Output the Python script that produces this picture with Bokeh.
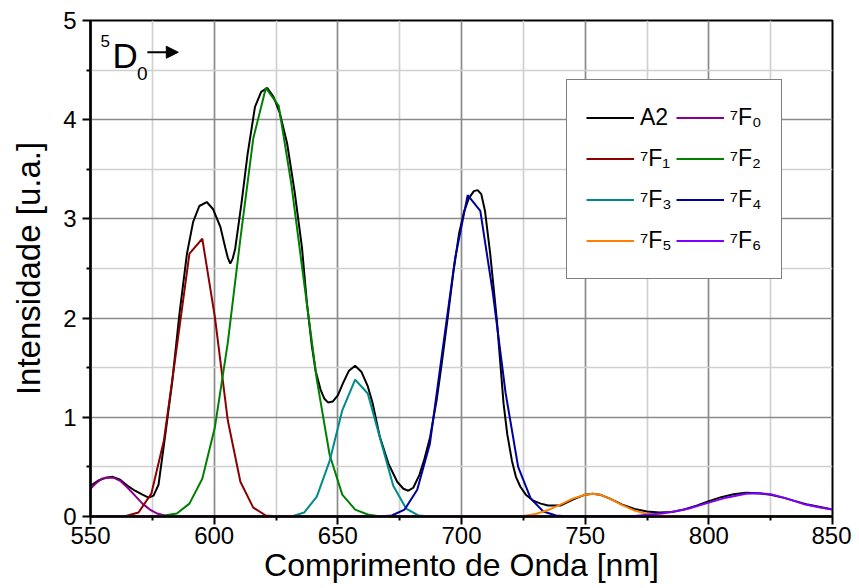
from bokeh.plotting import figure
from bokeh.models import (FixedTicker, Legend, LegendItem, Label, Arrow, NormalHead, Range1d)
from bokeh.embed import file_html
from bokeh.resources import INLINE

# ---- data ----
A2_x = [550, 553, 556, 559, 562, 565, 568, 571, 573.5, 575.5, 577.5, 580, 583, 586, 589, 591.5, 594, 597,
        599.5, 602.5, 604.5, 605.5, 606.5, 607.5, 608.5, 611, 613.5, 616.5, 619, 621.5, 624, 626.5, 629.5,
        632.5, 635.5, 637.5, 639.5, 641, 643, 644.5, 646, 648, 650, 652, 654.5, 657, 659.5, 662, 664, 667,
        670.5, 674, 676.5, 678.5, 680.5, 683, 685, 687.3, 690, 692, 694.5, 696.8, 699, 701, 703, 705, 706.5,
        708, 709.5, 711.6, 714.3, 717, 718.5, 720.4, 722, 723.8, 726, 729, 732, 735, 740, 745, 750, 753, 756,
        760, 765, 770, 775, 780, 785, 790, 795, 800, 805, 810, 815, 820, 825, 830, 835, 840, 845, 850]
A2_y = [0.31, 0.36, 0.39, 0.40, 0.37, 0.31, 0.26, 0.22, 0.19, 0.21, 0.32, 0.78, 1.35, 2.05, 2.65, 2.97, 3.13, 3.17,
        3.10, 2.92, 2.71, 2.61, 2.55, 2.60, 2.70, 3.15, 3.65, 4.13, 4.28, 4.32, 4.23, 4.07, 3.76,
        3.28, 2.71, 2.15, 1.72, 1.47, 1.28, 1.19, 1.15, 1.16, 1.22, 1.34, 1.47, 1.52, 1.46, 1.32, 1.15, 0.80,
        0.53, 0.35, 0.28, 0.26, 0.29, 0.42, 0.58, 0.80, 1.18, 1.54, 2.02, 2.48, 2.85, 3.07, 3.21, 3.28, 3.29,
        3.25, 3.08, 2.65, 1.98, 1.14, 0.83, 0.56, 0.40, 0.30, 0.22, 0.16, 0.13, 0.11, 0.11, 0.17, 0.22, 0.23, 0.22,
        0.18, 0.12, 0.075, 0.05, 0.04, 0.045, 0.07, 0.11, 0.155, 0.195, 0.225, 0.24, 0.235, 0.22, 0.19, 0.155,
        0.12, 0.095, 0.07]

F0_x = [550, 552, 554.5, 557, 559.5, 562, 565, 568, 571, 574, 577, 580, 585, 850]
F0_y = [0.28, 0.33, 0.38, 0.39, 0.39, 0.36, 0.29, 0.21, 0.13, 0.07, 0.03, 0.01, 0, 0]

F1_x = [550, 559.1, 564.3, 569.4, 574.6, 579.7, 584.9, 590.0, 595.2, 600.3, 605.5, 610.6, 615.8, 620.9, 626.1, 850]
F1_y = [0, 0, 0.005, 0.04, 0.23, 0.77, 1.71, 2.65, 2.80, 2.01, 0.97, 0.35, 0.09, 0.01, 0, 0]

F2_x = [550, 574.6, 579.7, 584.9, 590.0, 595.2, 600.3, 605.5, 610.6, 615.8, 620.9, 626.1, 631.2, 636.4,
        641.5, 646.7, 651.8, 657.0, 662.1, 667.3, 850]
F2_y = [0, 0, 0.01, 0.03, 0.13, 0.38, 0.90, 1.75, 2.80, 3.81, 4.32, 4.14, 3.35, 2.35,
        1.38, 0.62, 0.22, 0.07, 0.02, 0, 0]

F3_x = [550, 631.2, 636.4, 641.5, 646.7, 651.8, 657.0, 662.1, 667.3, 672.4, 677.6, 682.7, 687.9, 850]
F3_y = [0, 0, 0.04, 0.20, 0.56, 1.07, 1.38, 1.24, 0.77, 0.31, 0.08, 0.01, 0, 0]

F4_x = [550, 666.7, 671.8, 677.0, 682.1, 687.2, 692.3, 697.4, 702.5, 707.6, 712.7, 717.8, 722.9, 728.0,
        733.1, 738.2, 743.3, 850]
F4_y = [0, 0, 0.01, 0.07, 0.27, 0.73, 1.67, 2.60, 3.24, 3.08, 2.25, 1.25, 0.50, 0.18,
        0.05, 0.01, 0, 0]

F5_x = [550, 720, 725, 730, 735, 740, 745, 750, 753, 756, 760, 765, 770, 775, 780, 785, 850]
F5_y = [0, 0, 0.005, 0.025, 0.065, 0.12, 0.18, 0.22, 0.23, 0.22, 0.18, 0.115, 0.06, 0.025, 0.01, 0, 0]

F6_x = [550, 765, 770, 776, 781, 786, 792, 800, 807, 815, 820, 825, 831, 839, 845, 850]
F6_y = [0, 0, 0.005, 0.02, 0.03, 0.05, 0.08, 0.14, 0.19, 0.23, 0.235, 0.225, 0.185, 0.12, 0.09, 0.07]

x_ticks = [550, 600, 650, 700, 750, 800, 850]
y_ticks = [0, 1, 2, 3, 4, 5]

series = [
    ("A2", A2_x, A2_y, "#000000"),
    ("\u2077F\u2080", F0_x, F0_y, "#8B008B"),
    ("\u2077F\u2081", F1_x, F1_y, "#8B0000"),
    ("\u2077F\u2082", F2_x, F2_y, "#008000"),
    ("\u2077F\u2083", F3_x, F3_y, "#008B8B"),
    ("\u2077F\u2084", F4_x, F4_y, "#0000A0"),
    ("\u2077F\u2085", F5_x, F5_y, "#FF8000"),
    ("\u2077F\u2086", F6_x, F6_y, "#8000FF"),
]

FONT = "Liberation Sans"

p = figure(width=851, height=600, output_backend="svg", toolbar_location=None,
           x_range=Range1d(550, 850), y_range=Range1d(0, 5),
           min_border_left=90, min_border_right=19, min_border_top=20, min_border_bottom=84)
p.background_fill_color = "white"
p.border_fill_color = "white"
p.outline_line_color = "black"
p.outline_line_width = 2

xt = FixedTicker(ticks=x_ticks, minor_ticks=[575, 625, 675, 725, 775, 825])
yt = FixedTicker(ticks=y_ticks, minor_ticks=[0.5, 1.5, 2.5, 3.5, 4.5])
p.xaxis.ticker = xt
p.yaxis.ticker = yt
p.xgrid.ticker = xt
p.ygrid.ticker = yt

for g in (p.xgrid, p.ygrid):
    g.grid_line_color = "#8a8a8a"
    g.grid_line_width = 1.7
    g.minor_grid_line_color = "#d0d0d0"
    g.minor_grid_line_width = 1.7

for ax in (p.xaxis, p.yaxis):
    ax.axis_line_width = 2.5
    ax.axis_line_color = "black"
    ax.major_tick_line_width = 2
    ax.minor_tick_line_width = 2
    ax.major_tick_out = 8
    ax.major_tick_in = 0
    ax.minor_tick_out = 4
    ax.minor_tick_in = 0
    ax.major_label_text_font = FONT
    ax.major_label_text_font_size = "24px"
    ax.major_label_text_color = "black"
    ax.axis_label_text_font = FONT
    ax.axis_label_text_font_style = "normal"
    ax.axis_label_text_color = "black"

p.xaxis.axis_label = "Comprimento de Onda [nm]"
p.xaxis.axis_label_text_font_size = "32px"
p.xaxis.major_label_standoff = 2
p.xaxis.axis_label_standoff = 0
p.yaxis.axis_label = "Intensidade [u.a.]"
p.yaxis.axis_label_text_font_size = "33px"
p.yaxis.major_label_standoff = 6
p.yaxis.axis_label_standoff = 13

renderers = {}
for name, xs, ys, col in series:
    r = p.line(xs, ys, line_color=col, line_width=2)
    renderers[name] = r

order = ["A2", "\u2077F\u2081", "\u2077F\u2083", "\u2077F\u2085",
         "\u2077F\u2080", "\u2077F\u2082", "\u2077F\u2084", "\u2077F\u2086"]
legend = Legend(items=[LegendItem(label=n, renderers=[renderers[n]]) for n in order],
                location=(476, 237), orientation="vertical", ncols=2,
                glyph_width=48, glyph_height=37, label_height=37, label_standoff=6,
                padding=19, spacing=4, margin=0,
                label_text_font=FONT, label_text_font_size="23px", label_text_color="black",
                border_line_color="black", border_line_width=1.5,
                background_fill_color="white", background_fill_alpha=1.0)
p.add_layout(legend, "center")

# 5D0 -> annotation
p.add_layout(Label(x=554.0, y=4.79, text="5", text_font=FONT, text_font_size="17px",
                   text_color="black", text_baseline="middle"))
p.add_layout(Label(x=558.9, y=4.65, text="D", text_font=FONT, text_font_size="35px",
                   text_color="black", text_baseline="middle"))
p.add_layout(Label(x=568.8, y=4.47, text="0", text_font=FONT, text_font_size="19px",
                   text_color="black", text_baseline="middle"))
p.add_layout(Arrow(x_start=573.0, y_start=4.68, x_end=585.5, y_end=4.68, line_width=2,
                   line_color="black",
                   end=NormalHead(size=12, fill_color="black", line_color="black")))

open("out.html", "w").write(file_html(p, INLINE))
